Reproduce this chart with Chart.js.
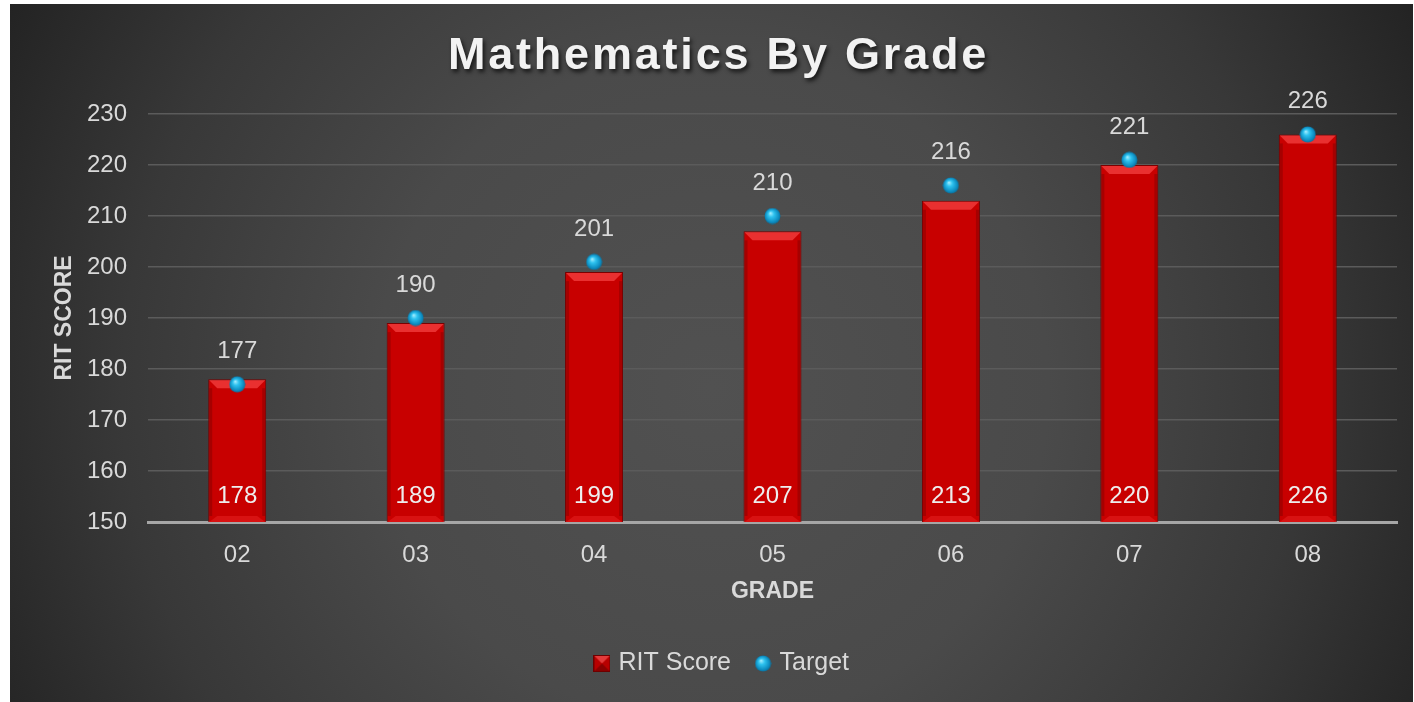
<!DOCTYPE html>
<html>
<head>
<meta charset="utf-8">
<script src="https://cdn.jsdelivr.net/npm/chart.js@4.4.1/dist/chart.umd.min.js"></script>
<style>
html, body { margin: 0; padding: 0; background: #fff; }
#wrap { position: absolute; left: 10px; top: 4px; width: 1403px; height: 698px; }
</style>
</head>
<body>
<div id="wrap"><canvas id="g_grade"></canvas></div>
<script>
// values
var grades = ['02', '03', '04', '05', '06', '07', '08'];
var ritScore = [178, 189, 199, 207, 213, 220, 226];
var target = [177, 190, 201, 210, 216, 221, 226];
var yMin = 150, yMax = 230, yStep = 10;

var fuente = '"Liberation Sans", Arial, sans-serif';
var gris = '#d9d9d9';

// little blue ball for the target points
function esfera(size) {
    var c = document.createElement('canvas');
    c.width = size; c.height = size;
    var x = c.getContext('2d');
    var r = size / 2;
    var g = x.createRadialGradient(r * 0.75, r * 0.65, 0, r, r, r);
    g.addColorStop(0, '#aef0ff');
    g.addColorStop(0.35, '#2ec3f0');
    g.addColorStop(0.8, '#0d8cc0');
    g.addColorStop(1, '#086a95');
    x.fillStyle = g;
    x.beginPath(); x.arc(r, r, r - 0.5, 0, Math.PI * 2); x.fill();
    return c;
}

// red bevel square for the legend
function marcaBarra(size) {
    var c = document.createElement('canvas');
    c.width = size; c.height = size;
    var x = c.getContext('2d');
    x.fillStyle = '#b80000';
    x.fillRect(0, 0, size, size);
    x.fillStyle = '#e23a3a';
    x.beginPath(); x.moveTo(0, 0); x.lineTo(size, 0); x.lineTo(size / 2, size / 2); x.closePath(); x.fill();
    x.fillStyle = '#8a0000';
    x.beginPath(); x.moveTo(0, size); x.lineTo(size, size); x.lineTo(size / 2, size / 2); x.closePath(); x.fill();
    x.strokeStyle = '#6e0000';
    x.lineWidth = 1;
    x.strokeRect(0.5, 0.5, size - 1, size - 1);
    return c;
}

var bola = esfera(17);
var bolaLeyenda = esfera(17);
var cuadro = marcaBarra(17);

var fondo = {
    id: 'fondo',
    beforeDraw: function (chart) {
        var ctx = chart.ctx, w = chart.width, h = chart.height;
        var cx = w * 0.5, cy = h * 0.55;
        var g = ctx.createRadialGradient(cx, cy, 0, cx, cy, w * 0.6);
        g.addColorStop(0, '#515151');
        g.addColorStop(0.4, '#4a4a4a');
        g.addColorStop(0.7, '#383838');
        g.addColorStop(1, '#1f1f1f');
        ctx.save();
        ctx.fillStyle = g;
        ctx.fillRect(0, 0, w, h);
        ctx.restore();
    },
    afterDraw: function (chart) {
        var ctx = chart.ctx;
        ctx.save();
        ctx.font = 'bold 45px ' + fuente;
        ctx.letterSpacing = '2.8px';
        ctx.textAlign = 'center';
        ctx.textBaseline = 'middle';
        ctx.shadowColor = 'rgba(0,0,0,0.7)';
        ctx.shadowOffsetX = 2;
        ctx.shadowOffsetY = 3;
        ctx.shadowBlur = 4;
        ctx.fillStyle = '#f2f2f2';
        ctx.fillText('Mathematics By Grade', chart.width / 2 + 7, 53);
        ctx.restore();
    }
};

// bars start at 0 and get clipped, so the visible bottom is the axis
function pieBarra(chart) {
    return chart.scales.y.getPixelForValue(yMin);
}

var bisel = {
    id: 'bisel',
    afterDatasetDraw: function (chart, args) {
        if (args.index !== 0) return;
        var ctx = chart.ctx;
        var b = pieBarra(chart);
        ctx.save();
        args.meta.data.forEach(function (bar) {
            var l = bar.x - bar.width / 2, r = bar.x + bar.width / 2;
            var t = bar.y, d = 9;
            ctx.fillStyle = 'rgba(255,80,80,0.6)';
            ctx.beginPath();
            ctx.moveTo(l + 1, t + 1); ctx.lineTo(r - 1, t + 1); ctx.lineTo(r - d, t + d); ctx.lineTo(l + d, t + d);
            ctx.closePath(); ctx.fill();
            ctx.fillStyle = 'rgba(255,60,60,0.3)';
            ctx.beginPath();
            ctx.moveTo(l + 1, b); ctx.lineTo(r - 1, b); ctx.lineTo(r - d, b - 6); ctx.lineTo(l + d, b - 6);
            ctx.closePath(); ctx.fill();
            ctx.fillStyle = 'rgba(90,0,0,0.3)';
            ctx.fillRect(r - 4, t + d, 3, b - t - d - 6);
            ctx.fillRect(l + 1, t + d, 3, b - t - d - 6);
        });
        ctx.restore();
    }
};

var etiquetas = {
    id: 'etiquetas',
    afterDatasetsDraw: function (chart) {
        var ctx = chart.ctx;
        var b = pieBarra(chart);
        ctx.save();
        ctx.font = '24px ' + fuente;
        ctx.textAlign = 'center';
        ctx.textBaseline = 'middle';
        chart.getDatasetMeta(0).data.forEach(function (bar, i) {
            ctx.fillStyle = '#eeeeee';
            ctx.fillText(ritScore[i], bar.x, b - 26);
        });
        chart.getDatasetMeta(1).data.forEach(function (pt, i) {
            ctx.fillStyle = gris;
            ctx.fillText(target[i], pt.x, pt.y - 33);
        });
        ctx.restore();
    }
};

new Chart(document.getElementById('g_grade'), {
    type: 'bar',
    data: {
        labels: grades,
        datasets: [{
            label: 'RIT Score',
            data: ritScore,
            backgroundColor: '#c80000',
            borderColor: '#7a0000',
            borderWidth: 1,
            barPercentage: 0.325,
            categoryPercentage: 1,
            order: 1
        }, {
            type: 'line',
            label: 'Target',
            data: target,
            showLine: false,
            pointStyle: bola,
            pointRadius: 8,
            pointHoverRadius: 8,
            order: 0
        }]
    },
    options: {
        responsive: true,
        maintainAspectRatio: false,
        animation: false,
        layout: { padding: { top: 110, right: 16, bottom: 16, left: 40 } },
        plugins: {
            title: { display: false },
            tooltip: { enabled: false },
            legend: {
                position: 'bottom',
                maxHeight: 63,
                labels: {
                    color: gris,
                    font: { size: 25, family: fuente },
                    usePointStyle: true,
                    boxWidth: 8,
                    boxHeight: 16,
                    padding: 28,
                    sort: function (a, b) { return a.datasetIndex - b.datasetIndex; },
                    generateLabels: function (chart) {
                        var items = Chart.defaults.plugins.legend.labels.generateLabels(chart);
                        items.forEach(function (it) {
                            it.pointStyle = it.datasetIndex === 0 ? cuadro : bolaLeyenda;
                        });
                        return items;
                    }
                }
            }
        },
        scales: {
            x: {
                grid: { display: false, drawTicks: false },
                border: { color: '#a6a6a6', width: 3 },
                ticks: { color: gris, font: { size: 24, family: fuente }, padding: 19 },
                title: {
                    display: true, text: 'GRADE', color: gris,
                    font: { size: 23, weight: 'bold', family: fuente },
                    padding: { top: 0, bottom: 18 }
                },
                afterFit: function (scale) { scale.height = 101; }
            },
            y: {
                min: yMin, max: yMax,
                grid: { color: '#5b5b5b', lineWidth: 1.5, drawTicks: false },
                border: { display: false },
                ticks: { stepSize: yStep, color: gris, font: { size: 24, family: fuente }, padding: 21 },
                title: {
                    display: true, text: 'RIT SCORE', color: gris,
                    font: { size: 23, weight: 'bold', family: fuente },
                    padding: { top: 1, bottom: 0 }
                },
                afterFit: function (scale) { scale.width = 98; }
            }
        }
    },
    plugins: [fondo, bisel, etiquetas]
});
</script>
</body>
</html>
